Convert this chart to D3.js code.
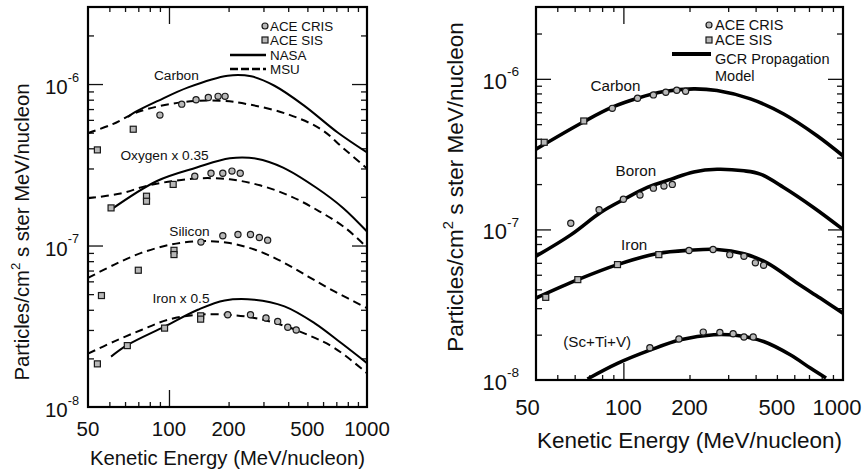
<!DOCTYPE html>
<html>
<head>
<meta charset="utf-8">
<script src="https://cdn.jsdelivr.net/npm/d3@7"></script>
<style>
  body { margin: 0; background: #fff; }
</style>
</head>
<body>
<script>
// ---------- data (energy in MeV/nucleon, flux in particles/cm2 s ster MeV/nucleon) ----------
const fluxDomain = [1e-8, 3e-6];
const fluxLabelValues = [1e-8, 1e-7, 1e-6];
const energyLabelValues = [50, 100, 200, 500, 1000];

// left panel: NASA (solid) and MSU (dashed) models
const leftCarbonNasa = [[62, 6.25e-7], [67, 6.67e-7], [88, 7.87e-7], [125, 9.54e-7], [198, 1.127e-6], [260, 1.117e-6], [341, 9.76e-7], [483, 7.33e-7], [711, 5.01e-7], [1000, 3.77e-7]];
const leftCarbonMsu = [[39, 4.97e-7], [52, 5.65e-7], [70, 6.73e-7], [115, 7.7e-7], [184, 7.87e-7], [250, 7.5e-7], [398, 6.5e-7], [586, 5.25e-7], [760, 4.0e-7], [1000, 3.0e-7]];
const leftOxygenNasa = [[51, 1.67e-7], [87, 2.51e-7], [138, 3.04e-7], [203, 3.47e-7], [277, 3.45e-7], [377, 3.04e-7], [555, 2.28e-7], [757, 1.71e-7], [1000, 1.22e-7]];
const leftOxygenMsu = [[39, 1.96e-7], [57, 2.1e-7], [77, 2.34e-7], [105, 2.51e-7], [143, 2.61e-7], [203, 2.57e-7], [288, 2.36e-7], [407, 2.03e-7], [574, 1.63e-7], [787, 1.27e-7], [1000, 9.7e-8]];
const leftSiliconMsu = [[39, 6.3e-8], [53, 7.62e-8], [72.5, 9.0e-8], [103, 1.015e-7], [145, 1.064e-7], [198, 1.04e-7], [270, 9.45e-8], [368, 8.0e-8], [502, 6.45e-8], [685, 5.2e-8], [1000, 4.1e-8]];
const leftIronNasa = [[51, 2.05e-8], [62, 2.43e-8], [95, 3.15e-8], [140, 4.0e-8], [191, 4.57e-8], [270, 4.62e-8], [383, 4.2e-8], [543, 3.31e-8], [741, 2.49e-8], [1000, 1.87e-8]];
const leftIronMsu = [[39, 2.14e-8], [53, 2.55e-8], [72.5, 3.0e-8], [99, 3.47e-8], [140, 3.73e-8], [198, 3.73e-8], [270, 3.56e-8], [368, 3.23e-8], [502, 2.8e-8], [685, 2.32e-8], [1000, 1.62e-8]];

// left panel: measurements
const leftSis = [
  [43.5, 3.91e-7], [66, 5.25e-7],
  [51, 1.71e-7], [77, 2.02e-7], [77, 1.88e-7], [105, 2.39e-7],
  [45.6, 4.9e-8], [70, 7.03e-8], [106, 9.34e-8], [106, 8.79e-8],
  [43.5, 1.85e-8], [61.6, 2.4e-8], [95, 3.08e-8], [144.5, 3.67e-8], [144.5, 3.5e-8]
];
const leftCris = [
  [90, 6.42e-7], [116, 7.51e-7], [137, 7.99e-7], [158, 8.26e-7], [177, 8.39e-7], [192, 8.39e-7],
  [135, 2.69e-7], [163, 2.8e-7], [187, 2.8e-7], [208, 2.89e-7], [229, 2.8e-7],
  [145, 1.05e-7], [187, 1.15e-7], [223, 1.17e-7], [258, 1.17e-7], [286, 1.12e-7], [315, 1.08e-7],
  [198, 3.73e-8], [258, 3.73e-8], [309, 3.56e-8], [354, 3.39e-8], [398, 3.12e-8], [439, 3.0e-8]
];
const leftNames = [["Carbon", 109, 1.127e-6], ["Oxygen x 0.35", 95, 3.59e-7], ["Silicon", 127, 1.23e-7], ["Iron x 0.5", 115, 4.73e-8]];

// right panel: GCR propagation model
const rightCarbonModel = [[40, 3.41e-7], [66, 5.19e-7], [89, 6.48e-7], [116, 7.43e-7], [153, 8.23e-7], [209, 8.58e-7], [267, 8.36e-7], [379, 7.36e-7], [537, 5.84e-7], [762, 4.19e-7], [1000, 3.08e-7]];
const rightBoronModel = [[40, 6.64e-8], [57.6, 9.2e-8], [79, 1.3e-7], [100.6, 1.585e-7], [128.5, 1.9e-7], [164, 2.15e-7], [209, 2.41e-7], [267, 2.51e-7], [354, 2.45e-7], [420, 2.33e-7], [537, 1.9e-7], [734, 1.4e-7], [1000, 1.0e-7]];
const rightIronModel = [[40, 3.5e-8], [62, 4.64e-8], [94, 5.84e-8], [143, 6.92e-8], [202, 7.28e-8], [267, 7.36e-8], [354, 6.89e-8], [451, 6.0e-8], [617, 4.41e-8], [787, 3.5e-8], [1000, 2.78e-8]];
const rightScTiVModel = [[68.6, 1.016e-8], [94, 1.29e-8], [133, 1.585e-8], [182, 1.85e-8], [258, 2.0e-8], [330, 1.975e-8], [435, 1.8e-8], [575, 1.47e-8], [710, 1.2e-8], [837, 1.03e-8]];

// right panel: measurements
const rightSis = [
  [43.6, 3.79e-7], [66, 5.25e-7],
  [44.3, 3.54e-8], [62, 4.64e-8], [94, 5.84e-8], [145, 6.8e-8]
];
const rightCris = [
  [89, 6.37e-7], [116, 7.43e-7], [137, 7.82e-7], [156, 8.15e-7], [175, 8.4e-7], [192, 8.28e-7],
  [57.6, 1.1e-7], [77.5, 1.35e-7], [100, 1.585e-7], [119, 1.69e-7], [137, 1.88e-7], [153, 1.94e-7], [167, 1.99e-7],
  [199, 7.24e-8], [256, 7.36e-8], [305, 6.8e-8], [354, 6.64e-8], [399, 6.0e-8], [435, 5.78e-8],
  [132, 1.64e-8], [179, 1.87e-8], [231, 2.08e-8], [275, 2.07e-8], [316, 2.03e-8], [354, 1.93e-8], [390, 1.93e-8]
];
const rightNames = [["Carbon", 92, 9.02e-7], ["Boron", 114, 2.45e-7], ["Iron", 112, 7.94e-8], ["(Sc+Ti+V)", 76, 1.8e-8]];

// ---------- drawing ----------
const FONT = "'Liberation Sans', Arial, Helvetica, sans-serif";

const svg = d3.select("body")
    .append("svg")
    .attr("width", 863)
    .attr("height", 470)
    .style("font-family", FONT);

function drawPanel(p) {
    const x = d3.scaleLog().domain(p.xDomain).range([p.left, p.right]);
    const y = d3.scaleLog().domain(fluxDomain).range([p.bottom, p.top]);

    svg.append("clipPath").attr("id", "clip-" + p.id)
        .append("rect")
        .attr("x", p.left).attr("y", p.top)
        .attr("width", p.right - p.left).attr("height", p.bottom - p.top);

    // ticks, all pointing into the frame
    const xMinor = x.ticks().filter(v => v >= 50 && v < 1000 && v !== 100);
    const yAll = y.ticks();
    const isDecade = v => Math.abs(Math.log10(v) - Math.round(Math.log10(v))) < 1e-6;
    const yMajor = yAll.filter(v => isDecade(v) && v > fluxDomain[0]);
    const yMinor = yAll.filter(v => !isDecade(v) && v < fluxDomain[1]);

    function ticks(axis, scale, values, size, tx, ty) {
        const g = svg.append("g")
            .attr("transform", "translate(" + tx + "," + ty + ")")
            .call(axis(scale).tickValues(values).tickSize(-size).tickFormat(""));
        g.select(".domain").remove();
        g.selectAll("line").attr("stroke", "#111").attr("stroke-width", 1.3);
    }
    ticks(d3.axisBottom, x, xMinor, 5, 0, p.bottom);
    ticks(d3.axisBottom, x, [100], 17, 0, p.bottom);
    ticks(d3.axisTop, x, xMinor, 5, 0, p.top);
    ticks(d3.axisTop, x, [100], 17, 0, p.top);
    ticks(d3.axisLeft, y, yMinor, 6, p.left, 0);
    ticks(d3.axisLeft, y, yMajor, 15, p.left, 0);
    ticks(d3.axisRight, y, yMinor, 6, p.right, 0);
    ticks(d3.axisRight, y, yMajor, 15, p.right, 0);

    // frame
    svg.append("rect")
        .attr("x", p.left).attr("y", p.top)
        .attr("width", p.right - p.left).attr("height", p.bottom - p.top)
        .attr("fill", "none")
        .attr("stroke", "#000")
        .attr("stroke-width", 2.2);

    // energy tick labels (the "50" sits at the left edge of the frame, as in the original)
    const last = energyLabelValues.length - 1;
    svg.append("g").selectAll("text")
        .data(energyLabelValues)
        .enter()
        .append("text")
        .attr("x", (d, i) => i === 0 ? x.range()[0] + p.firstLabelShift
                           : i === last ? x(d) + p.lastLabelShift : x(d))
        .attr("y", p.xLabelY)
        .attr("text-anchor", "middle")
        .attr("dominant-baseline", "central")
        .attr("font-size", p.tickFont)
        .attr("fill", "#111")
        .text(d => d);

    // flux tick labels 10^n
    const yl = svg.append("g").selectAll("text")
        .data(fluxLabelValues)
        .enter()
        .append("text")
        .attr("x", p.left - p.yLabelGap)
        .attr("y", d => y(d) + 2)
        .attr("text-anchor", "end")
        .attr("dominant-baseline", "central")
        .attr("font-size", p.tickFont)
        .attr("fill", "#111");
    yl.append("tspan").text("10");
    yl.append("tspan")
        .attr("font-size", p.tickFont * 0.62)
        .attr("dy", -p.tickFont * 0.45)
        .text(d => Math.round(Math.log10(d)));

    // axis titles
    svg.append("text")
        .attr("x", (p.left + p.right) / 2)
        .attr("y", p.xTitleY)
        .attr("text-anchor", "middle")
        .attr("dominant-baseline", "central")
        .attr("font-size", p.titleFont)
        .attr("fill", "#111")
        .text("Kenetic Energy (MeV/nucleon)");

    const yt = svg.append("text")
        .attr("transform", "translate(" + p.yTitleX + "," + p.yTitleMid + ") rotate(-90)")
        .attr("text-anchor", "middle")
        .attr("font-size", p.titleFont)
        .attr("fill", "#111");
    yt.append("tspan").text("Particles/cm");
    yt.append("tspan").attr("font-size", p.titleFont * 0.65).attr("dy", -p.titleFont * 0.45).text("2");
    yt.append("tspan").attr("dy", p.titleFont * 0.45).text(" s ster MeV/nucleon");

    // model curves
    const line = d3.line()
        .x(d => x(d[0]))
        .y(d => y(d[1]))
        .curve(d3.curveCatmullRom.alpha(0.5));

    const curves = svg.append("g").attr("clip-path", "url(#clip-" + p.id + ")");
    p.curves.forEach(function (c) {
        curves.append("path")
            .datum(c.data)
            .attr("fill", "none")
            .attr("stroke", "#000")
            .attr("stroke-width", p.lineWidth)
            .attr("stroke-dasharray", c.dashed ? "8,5" : null)
            .attr("d", line);
    });

    // measurements: squares (ACE SIS) and circles (ACE CRIS)
    const markers = svg.append("g");
    markers.selectAll("rect")
        .data(p.sis)
        .enter()
        .append("rect")
        .attr("x", d => x(d[0]) - 3)
        .attr("y", d => y(d[1]) - 3)
        .attr("width", 6)
        .attr("height", 6)
        .attr("fill", "#b8b8b8")
        .attr("stroke", "#1a1a1a")
        .attr("stroke-width", 1.2);
    markers.selectAll("circle")
        .data(p.cris)
        .enter()
        .append("circle")
        .attr("cx", d => x(d[0]))
        .attr("cy", d => y(d[1]))
        .attr("r", 3.1)
        .attr("fill", "#b8b8b8")
        .attr("stroke", "#1a1a1a")
        .attr("stroke-width", 1.2);

    // species names
    svg.append("g").selectAll("text")
        .data(p.names)
        .enter()
        .append("text")
        .attr("x", d => x(d[1]))
        .attr("y", d => y(d[2]))
        .attr("text-anchor", "middle")
        .attr("dominant-baseline", "central")
        .attr("font-size", p.nameFont)
        .attr("fill", "#111")
        .text(d => d[0]);

    // legend
    const lg = svg.append("g")
        .attr("transform", "translate(" + p.left + "," + p.top + ")")
        .attr("font-size", p.legendFont)
        .attr("fill", "#111");
    p.legend.forEach(function (item) {
        if (item.type === "circle") {
            lg.append("circle").attr("cx", p.legendMarkerX).attr("cy", item.dy).attr("r", 3)
                .attr("fill", "#b8b8b8").attr("stroke", "#1a1a1a").attr("stroke-width", 1.2);
        } else if (item.type === "square") {
            lg.append("rect").attr("x", p.legendMarkerX - 3).attr("y", item.dy - 3).attr("width", 6).attr("height", 6)
                .attr("fill", "#b8b8b8").attr("stroke", "#1a1a1a").attr("stroke-width", 1.2);
        } else if (item.type) {
            lg.append("line")
                .attr("x1", p.legendLine[0]).attr("x2", p.legendLine[1])
                .attr("y1", item.dy).attr("y2", item.dy)
                .attr("stroke", "#000")
                .attr("stroke-width", item.width)
                .attr("stroke-dasharray", item.type === "dashed" ? "8,3" : null);
        }
        lg.append("text")
            .attr("x", p.legendTextX)
            .attr("y", item.textDy !== undefined ? item.textDy : item.dy)
            .attr("dominant-baseline", "central")
            .text(item.label);
    });
}

drawPanel({
    id: "left",
    left: 88, right: 367, top: 7, bottom: 407,
    xDomain: [39, 1000],
    firstLabelShift: 0, lastLabelShift: 0,
    xLabelY: 428,
    yLabelGap: 9,
    xTitleY: 458,
    yTitleX: 29, yTitleMid: 232,
    tickFont: 20.5, titleFont: 20.3, nameFont: 13.7, legendFont: 13.4,
    lineWidth: 2,
    curves: [
        { data: leftCarbonNasa }, { data: leftCarbonMsu, dashed: true },
        { data: leftOxygenNasa }, { data: leftOxygenMsu, dashed: true },
        { data: leftSiliconMsu, dashed: true },
        { data: leftIronNasa }, { data: leftIronMsu, dashed: true }
    ],
    sis: leftSis, cris: leftCris, names: leftNames,
    legendMarkerX: 177, legendTextX: 182, legendLine: [142, 178],
    legend: [
        { type: "circle", dy: 19, label: "ACE CRIS" },
        { type: "square", dy: 33, label: "ACE SIS" },
        { type: "solid", width: 2.4, dy: 48, label: "NASA" },
        { type: "dashed", width: 2.4, dy: 62, label: "MSU" }
    ]
});

drawPanel({
    id: "right",
    left: 536, right: 843, top: 7, bottom: 380,
    xDomain: [40, 1000],
    firstLabelShift: -8.5, lastLabelShift: -6,
    xLabelY: 407,
    yLabelGap: 17,
    xTitleY: 440,
    yTitleX: 463, yTitleMid: 187,
    tickFont: 22, titleFont: 22.5, nameFont: 15.2, legendFont: 14.5,
    lineWidth: 3.6,
    curves: [
        { data: rightCarbonModel }, { data: rightBoronModel },
        { data: rightIronModel }, { data: rightScTiVModel }
    ],
    sis: rightSis, cris: rightCris, names: rightNames,
    legendMarkerX: 173, legendTextX: 179, legendLine: [136, 175],
    legend: [
        { type: "circle", dy: 18, label: "ACE CRIS" },
        { type: "square", dy: 33, label: "ACE SIS" },
        { type: "solid", width: 4, dy: 47, textDy: 51.5, label: "GCR Propagation" },
        { dy: 69, label: "Model" }
    ]
});
</script>
</body>
</html>
